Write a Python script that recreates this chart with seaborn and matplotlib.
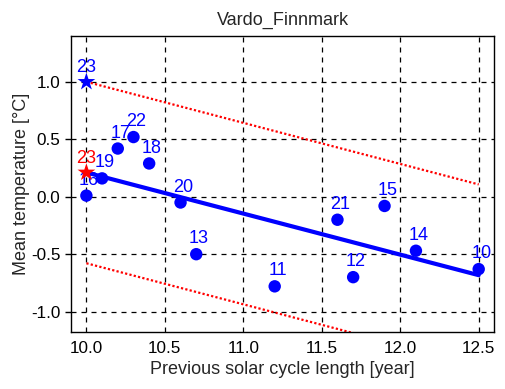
import numpy as np
import pandas as pd
import matplotlib
matplotlib.use("Agg")
import matplotlib.pyplot as plt
import seaborn as sns

# data
cycles = [16, 19, 17, 22, 18, 20, 13, 11, 21, 12, 15, 14, 10]
cycle_length = [10.0, 10.1, 10.2, 10.3, 10.4, 10.6, 10.7, 11.2, 11.6, 11.7, 11.9, 12.1, 12.5]
mean_temp = [0.01, 0.16, 0.42, 0.52, 0.29, -0.05, -0.50, -0.78, -0.20, -0.70, -0.08, -0.47, -0.63]

pred_cycle = 23
pred_length = 10.0
observed_23 = 1.0
band_halfwidth = 0.79

x_ticks = [10.0, 10.5, 11.0, 11.5, 12.0, 12.5]
y_ticks = [-1.0, -0.5, 0.0, 0.5, 1.0]

sns.set_style("ticks")
plt.rcParams['font.family'] = ['Liberation Sans', 'DejaVu Sans']

df = pd.DataFrame({"x": cycle_length, "y": mean_temp, "c": cycles})
slope, intercept = np.polyfit(df["x"], df["y"], 1)
fx = np.array([min(cycle_length), max(cycle_length)])
fit = pd.DataFrame({"x": fx, "y": intercept + slope * fx})
fit["up"] = fit["y"] + band_halfwidth
fit["lo"] = fit["y"] - band_halfwidth
pred_val = intercept + slope * pred_length

fig = plt.figure(figsize=(5.05, 3.89), dpi=100)
ax = fig.add_axes([0.140, 0.1458, 0.839, 0.7617])

ax.grid(True, color="black", linestyle=(0, (4, 4)), linewidth=0.9)
ax.set_axisbelow(True)

sns.lineplot(data=fit, x="x", y="up", ax=ax, color="red", linewidth=1.6,
             linestyle=(0, (1, 1)), zorder=2)
sns.lineplot(data=fit, x="x", y="lo", ax=ax, color="red", linewidth=1.6,
             linestyle=(0, (1, 1)), zorder=2)
sns.lineplot(data=fit, x="x", y="y", ax=ax, color="blue", linewidth=3, zorder=3)
sns.scatterplot(data=df, x="x", y="y", ax=ax, color="blue", s=80,
                edgecolor="none", zorder=4)
for xv, yv, c in zip(cycle_length, mean_temp, cycles):
    ax.annotate(str(c), (xv, yv), xytext=(2, 5), textcoords="offset points",
                ha="center", va="bottom", color="blue", fontsize=13, zorder=5)

sns.scatterplot(x=[pred_length], y=[observed_23], ax=ax, color="blue",
                marker="*", s=180, edgecolor="none", zorder=5)
ax.annotate(str(pred_cycle), (pred_length, observed_23), xytext=(0, 4),
            textcoords="offset points", ha="center", va="bottom",
            color="blue", fontsize=13, zorder=5)
sns.scatterplot(x=[pred_length], y=[pred_val], ax=ax, color="red",
                marker="*", s=180, edgecolor="none", zorder=5)
ax.annotate(str(pred_cycle), (pred_length, pred_val), xytext=(0, 4),
            textcoords="offset points", ha="center", va="bottom",
            color="red", fontsize=13, zorder=5)

ax.set_xlim(9.9, 12.6)
ax.set_ylim(-1.18, 1.40)
ax.set_xticks(x_ticks)
ax.set_yticks(y_ticks)
ax.set_xticklabels([f"{v:.1f}" for v in x_ticks])
ax.set_yticklabels([f"{v:.1f}" for v in y_ticks])
ax.tick_params(axis="both", labelsize=12.3, colors="black", length=4, width=1,
               direction="out")
ax.tick_params(axis="x", length=0, pad=6)
for s in ax.spines.values():
    s.set_visible(True)
    s.set_color("black")
    s.set_linewidth(1)
ax.set_xlabel("Previous solar cycle length [year]", fontsize=13)
ax.set_ylabel("Mean temperature [\u00b0C]", fontsize=13, labelpad=1)
ax.set_title("Vardo_Finnmark", fontsize=13, pad=8)

fig.savefig("out.png", dpi=100)
